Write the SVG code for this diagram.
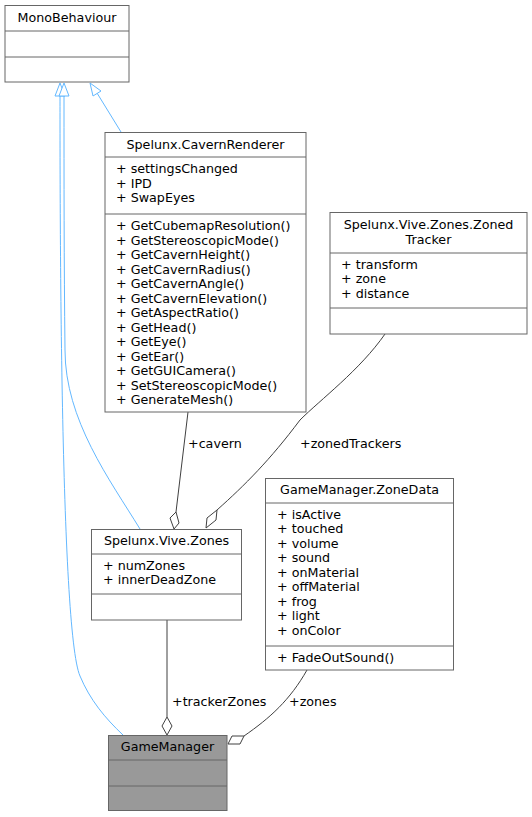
<svg xmlns="http://www.w3.org/2000/svg" width="532" height="817" viewBox="0 0 532 817">
<defs>
<style>
text{font-family:"DejaVu Sans","Liberation Sans",sans-serif;font-size:12.7px;fill:#000}
.c{text-anchor:middle}
.box{fill:#fff;stroke:#666;stroke-width:1}
.gm{fill:#999;stroke:#666;stroke-width:1}
.dv{stroke:#666;stroke-width:1}
.inh{fill:none;stroke:#63b8ff;stroke-width:1}
.ag{fill:none;stroke:#404040;stroke-width:1}
.tri{fill:#fff;stroke:#63b8ff;stroke-width:1}
.dia{fill:#fff;stroke:#404040;stroke-width:1}
</style>
</defs>
<rect width="532" height="817" fill="#fff"/>
<g id="connectors">
<path class="inh" d="M123,735 C105,718 90,700 80,676 C60,630 60,200 60,96"/>
<polygon class="tri" points="60,83 55,96 65,96"/>
<path class="inh" d="M140,529 C110,480 65,420 65,350 C64,260 64,180 64,96"/>
<polygon class="tri" points="64,83 59,96 69,96"/>
<path class="inh" d="M121,132 L97,93"/>
<polygon class="tri" points="90,83 93,96 101,91"/>
<path class="ag" d="M188,412 L176,512"/>
<polygon class="dia" points="174,529 170,518 176,512 179,523"/>
<text x="188" y="448">+cavern</text>
<path class="ag" d="M385,334 C360,370 320,400 300,420 C270,460 245,485 217,510"/>
<polygon class="dia" points="206,528 207,518 217,510 216,520"/>
<text x="300" y="448">+zonedTrackers</text>
<path class="ag" d="M167,620 L167,717"/>
<polygon class="dia" points="167,735 162,726 167,717 172,726"/>
<text x="172" y="706">+trackerZones</text>
<path class="ag" d="M307,670 C290,700 270,718 244,736"/>
<polygon class="dia" points="228,744 232,736 244,736 240,744"/>
<text x="289" y="706">+zones</text>
</g>
<g id="MonoBehaviour">
<rect class="box" x="5" y="5.5" width="124" height="76.5"/>
<line class="dv" x1="5" y1="31" x2="129" y2="31"/>
<line class="dv" x1="5" y1="57" x2="129" y2="57"/>
<text class="c" x="67" y="22">MonoBehaviour</text>
</g>
<g id="CavernRenderer">
<rect class="box" x="105" y="132.5" width="201" height="279.5"/>
<line class="dv" x1="105" y1="157" x2="306" y2="157"/>
<line class="dv" x1="105" y1="214" x2="306" y2="214"/>
<text class="c" x="205.5" y="149">Spelunx.CavernRenderer</text>
<text x="116" y="173">+ settingsChanged</text>
<text x="116" y="187.5">+ IPD</text>
<text x="116" y="202">+ SwapEyes</text>
<text x="116" y="230">+ GetCubemapResolution()</text>
<text x="116" y="244.5">+ GetStereoscopicMode()</text>
<text x="116" y="259">+ GetCavernHeight()</text>
<text x="116" y="273.5">+ GetCavernRadius()</text>
<text x="116" y="288">+ GetCavernAngle()</text>
<text x="116" y="302.5">+ GetCavernElevation()</text>
<text x="116" y="317">+ GetAspectRatio()</text>
<text x="116" y="331.5">+ GetHead()</text>
<text x="116" y="346">+ GetEye()</text>
<text x="116" y="360.5">+ GetEar()</text>
<text x="116" y="375">+ GetGUICamera()</text>
<text x="116" y="389.5">+ SetStereoscopicMode()</text>
<text x="116" y="404">+ GenerateMesh()</text>
</g>
<g id="ZonedTracker">
<rect class="box" x="330" y="212.5" width="197" height="121.5"/>
<line class="dv" x1="330" y1="253" x2="527" y2="253"/>
<line class="dv" x1="330" y1="308" x2="527" y2="308"/>
<text class="c" x="428.5" y="229">Spelunx.Vive.Zones.Zoned</text>
<text class="c" x="428.5" y="243.5">Tracker</text>
<text x="341" y="268.5">+ transform</text>
<text x="341" y="283">+ zone</text>
<text x="341" y="297.5">+ distance</text>
</g>
<g id="Zones">
<rect class="box" x="91.5" y="529.5" width="150" height="90.5"/>
<line class="dv" x1="91.5" y1="554" x2="241.5" y2="554"/>
<line class="dv" x1="91.5" y1="594" x2="241.5" y2="594"/>
<text class="c" x="166.5" y="545">Spelunx.Vive.Zones</text>
<text x="103" y="569.5">+ numZones</text>
<text x="103" y="584">+ innerDeadZone</text>
</g>
<g id="ZoneData">
<rect class="box" x="265.5" y="478.5" width="188" height="191.5"/>
<line class="dv" x1="265.5" y1="503" x2="453.5" y2="503"/>
<line class="dv" x1="265.5" y1="646" x2="453.5" y2="646"/>
<text class="c" x="359.5" y="494">GameManager.ZoneData</text>
<text x="277" y="518.5">+ isActive</text>
<text x="277" y="533">+ touched</text>
<text x="277" y="547.5">+ volume</text>
<text x="277" y="562">+ sound</text>
<text x="277" y="576.5">+ onMaterial</text>
<text x="277" y="591">+ offMaterial</text>
<text x="277" y="605.5">+ frog</text>
<text x="277" y="620">+ light</text>
<text x="277" y="634.5">+ onColor</text>
<text x="277" y="662">+ FadeOutSound()</text>
</g>
<g id="GameManager">
<rect class="gm" x="108.5" y="735.5" width="118.5" height="75"/>
<line class="dv" x1="108.5" y1="760" x2="227" y2="760"/>
<line class="dv" x1="108.5" y1="786" x2="227" y2="786"/>
<text class="c" x="167.5" y="751">GameManager</text>
</g>
</svg>
